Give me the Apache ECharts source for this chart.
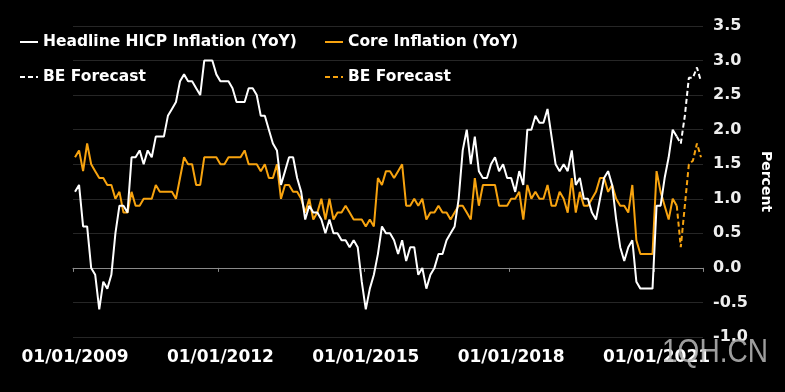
<!DOCTYPE html>
<html>
<head>
<meta charset="utf-8">
<script src="https://cdn.jsdelivr.net/npm/echarts@6/dist/echarts.min.js"></script>
<style>
html,body{margin:0;padding:0;background:#000;}
#chart{width:785px;height:392px;}
</style>
</head>
<body>
<div id="chart"></div>
<script>
// ---- data (monthly, Jan 2009 .. Dec 2021) ----
const startYear = 2009, endYear = 2021;
const months = [];
for (let y = startYear; y <= endYear; y++) {
  for (let m = 1; m <= 12; m++) months.push(y + '-' + (m < 10 ? '0' + m : m));
}
const tickLabels = ['01/01/2009', '01/01/2012', '01/01/2015', '01/01/2018', '01/01/2021'];
const yTicks = [-1.0, -0.5, 0.0, 0.5, 1.0, 1.5, 2.0, 2.5, 3.0, 3.5];

const headline = [
  1.1, 1.2, 0.6, 0.6, 0.0, -0.1, -0.6, -0.2, -0.3, -0.1, 0.5, 0.9,   // 2009
  0.9, 0.8, 1.6, 1.6, 1.7, 1.5, 1.7, 1.6, 1.9, 1.9, 1.9, 2.2,        // 2010
  2.3, 2.4, 2.7, 2.8, 2.7, 2.7, 2.6, 2.5, 3.0, 3.0, 3.0, 2.8,        // 2011
  2.7, 2.7, 2.7, 2.6, 2.4, 2.4, 2.4, 2.6, 2.6, 2.5, 2.2, 2.2,        // 2012
  2.0, 1.8, 1.7, 1.2, 1.4, 1.6, 1.6, 1.3, 1.1, 0.7, 0.9, 0.8,        // 2013
  0.8, 0.7, 0.5, 0.7, 0.5, 0.5, 0.4, 0.4, 0.3, 0.4, 0.3, -0.2,       // 2014
  -0.6, -0.3, -0.1, 0.2, 0.6, 0.5, 0.5, 0.4, 0.2, 0.4, 0.1, 0.3,     // 2015
  0.3, -0.1, 0.0, -0.3, -0.1, 0.0, 0.2, 0.2, 0.4, 0.5, 0.6, 1.0,     // 2016
  1.7, 2.0, 1.5, 1.9, 1.4, 1.3, 1.3, 1.5, 1.6, 1.4, 1.5, 1.3,        // 2017
  1.3, 1.1, 1.4, 1.2, 2.0, 2.0, 2.2, 2.1, 2.1, 2.3, 1.9, 1.5,        // 2018
  1.4, 1.5, 1.4, 1.7, 1.2, 1.3, 1.0, 1.0, 0.8, 0.7, 1.0, 1.3,        // 2019
  1.4, 1.2, 0.7, 0.3, 0.1, 0.3, 0.4, -0.2, -0.3, -0.3, -0.3, -0.3,   // 2020
  0.9, 0.9, 1.3, 1.6, 2.0, 1.9                                       // 2021 H1
];
const core = [
  1.6, 1.7, 1.4, 1.8, 1.5, 1.4, 1.3, 1.3, 1.2, 1.2, 1.0, 1.1,        // 2009
  0.8, 0.8, 1.1, 0.9, 0.9, 1.0, 1.0, 1.0, 1.2, 1.1, 1.1, 1.1,        // 2010
  1.1, 1.0, 1.3, 1.6, 1.5, 1.5, 1.2, 1.2, 1.6, 1.6, 1.6, 1.6,        // 2011
  1.5, 1.5, 1.6, 1.6, 1.6, 1.6, 1.7, 1.5, 1.5, 1.5, 1.4, 1.5,        // 2012
  1.3, 1.3, 1.5, 1.0, 1.2, 1.2, 1.1, 1.1, 1.0, 0.8, 1.0, 0.7,        // 2013
  0.8, 1.0, 0.7, 1.0, 0.7, 0.8, 0.8, 0.9, 0.8, 0.7, 0.7, 0.7,        // 2014
  0.6, 0.7, 0.6, 1.3, 1.2, 1.4, 1.4, 1.3, 1.4, 1.5, 0.9, 0.9,        // 2015
  1.0, 0.9, 1.0, 0.7, 0.8, 0.8, 0.9, 0.8, 0.8, 0.7, 0.8, 0.9,        // 2016
  0.9, 0.8, 0.7, 1.3, 0.9, 1.2, 1.2, 1.2, 1.2, 0.9, 0.9, 0.9,        // 2017
  1.0, 1.0, 1.1, 0.7, 1.2, 1.0, 1.1, 1.0, 1.0, 1.2, 0.9, 0.9,        // 2018
  1.1, 1.0, 0.8, 1.3, 0.8, 1.1, 0.9, 0.9, 1.0, 1.1, 1.3, 1.3,        // 2019
  1.1, 1.2, 1.0, 0.9, 0.9, 0.8, 1.2, 0.4, 0.2, 0.2, 0.2, 0.2,        // 2020
  1.4, 1.1, 0.9, 0.7, 1.0, 0.9                                       // 2021 H1
];
// BE forecasts, Jun 2021 .. Dec 2021 (first point joins the actual data)
const headlineForecast = [1.9, 1.8, 2.2, 2.75, 2.75, 2.9, 2.7];
const coreForecast = [0.9, 0.3, 0.9, 1.5, 1.55, 1.8, 1.6];

const forecastStart = headline.length - 1;
const pad = n => new Array(n).fill(null);
const headlineFcData = pad(forecastStart).concat(headlineForecast);
const coreFcData = pad(forecastStart).concat(coreForecast);

const WHITE = '#ffffff';
const ORANGE = '#f7a30f';
const FONT = "'DejaVu Sans', sans-serif";
const SOLID_ICON = 'path://M0,0H18V2H0Z';
const DASH_ICON = 'path://M0,0H5V2H0Z M8,0H13V2H8Z M16,0H18V2H16Z';

const chart = echarts.init(document.getElementById('chart'));

function legendAt(name, icon, left, top) {
  return {
    data: [{ name: name, icon: icon }], left: left, top: top, orient: 'horizontal',
    itemWidth: 18, itemHeight: 2, padding: 0, selectedMode: false,
    formatter: n => n.indexOf('BE Forecast') === 0 ? 'BE Forecast' : n,
    textStyle: { color: '#ffffff', fontWeight: 'bold', fontSize: 15.5, fontFamily: FONT }
  };
}

chart.setOption({
  backgroundColor: '#000000',
  animation: false,
  grid: { left: 73, right: 82, top: 26, bottom: 55 },
  legend: [
    legendAt('Headline HICP Inflation (YoY)', SOLID_ICON, 20, 34),
    legendAt('Core Inflation (YoY)', SOLID_ICON, 325, 34),
    legendAt('BE Forecast (headline)', DASH_ICON, 20, 69),
    legendAt('BE Forecast (core)', DASH_ICON, 325, 69)
  ],
  xAxis: [
    {
      type: 'category', data: months, boundaryGap: true,
      axisLine: { show: false, onZero: false },
      axisTick: { show: false },
      splitLine: { show: false },
      axisLabel: {
        interval: (idx) => idx % 36 === 0,
        formatter: (v, idx) => tickLabels[Math.round(idx / 36)] || '',
        color: '#ffffff', fontWeight: 'bold', fontSize: 17, fontFamily: FONT, margin: 12
      }
    },
    {
      type: 'category', data: months, boundaryGap: true, position: 'bottom',
      axisLine: { show: true, onZero: true, lineStyle: { color: '#8a8a8a', width: 1 } },
      axisTick: { show: true, interval: (idx) => idx % 36 === 0, length: 4, lineStyle: { color: '#8a8a8a' } },
      axisLabel: { show: false },
      splitLine: { show: false }
    }
  ],
  yAxis: {
    type: 'value', position: 'right', min: yTicks[0], max: yTicks[yTicks.length - 1], interval: 0.5,
    name: 'Percent', nameLocation: 'middle', nameRotate: -90, nameGap: 49,
    nameTextStyle: { color: '#ffffff', fontWeight: 'bold', fontSize: 14, fontFamily: FONT },
    axisLine: { show: false }, axisTick: { show: false },
    splitLine: { show: true, lineStyle: { color: '#262626', width: 1 } },
    axisLabel: {
      formatter: v => v.toFixed(1), margin: 10,
      color: '#eeeeee', fontWeight: 'bold', fontSize: 16, fontFamily: FONT
    }
  },
  series: [
    { name: 'Headline HICP Inflation (YoY)', type: 'line', data: headline, symbol: 'none',
      lineStyle: { color: WHITE, width: 2 }, itemStyle: { color: WHITE }, z: 3 },
    { name: 'Core Inflation (YoY)', type: 'line', data: core, symbol: 'none',
      lineStyle: { color: ORANGE, width: 2 }, itemStyle: { color: ORANGE }, z: 2 },
    { name: 'BE Forecast (headline)', type: 'line', data: headlineFcData, symbol: 'none',
      lineStyle: { color: WHITE, width: 2, type: [5, 3] }, itemStyle: { color: WHITE }, z: 3 },
    { name: 'BE Forecast (core)', type: 'line', data: coreFcData, symbol: 'none',
      lineStyle: { color: ORANGE, width: 2, type: [5, 3] }, itemStyle: { color: ORANGE }, z: 2 }
  ],
  graphic: [
    { type: 'text', left: 662, top: 336, z: 100, scaleX: 0.85,
      style: { text: '1QH.CN', fill: 'rgba(185,185,185,0.85)',
               font: "normal 33px 'Liberation Sans', sans-serif" } }
  ]
});
</script>
</body>
</html>
